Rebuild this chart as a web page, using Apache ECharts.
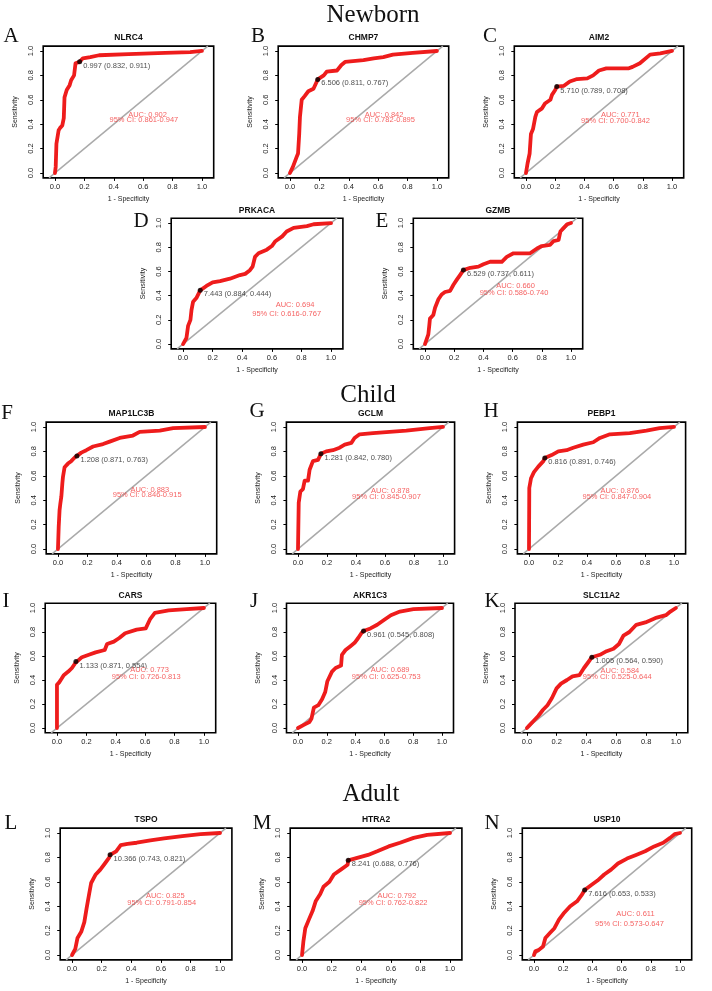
<!DOCTYPE html>
<html><head><meta charset="utf-8">
<script src="https://cdn.jsdelivr.net/npm/echarts@6/dist/echarts.min.js"></script>
<style>html,body{margin:0;padding:0;background:#fff}#c{width:712px;height:991px}</style>
</head><body><div id="c"></div>
<script>
// ---------------- data ----------------
const sections = ['Newborn', 'Child', 'Adult'];
const letters = ['A','B','C','D','E','F','G','H','I','J','K','L','M','N'];
const genes = ['NLRC4','CHMP7','AIM2','PRKACA','GZMB','MAP1LC3B','GCLM','PEBP1','CARS','AKR1C3','SLC11A2','TSPO','HTRA2','USP10'];
const thresholds = [0.997, 6.506, 5.710, 7.443, 6.529, 1.208, 1.281, 0.816, 1.133, 0.961, 1.005, 10.366, 8.241, 7.616];
const specAtThr = [0.832, 0.811, 0.789, 0.884, 0.737, 0.871, 0.842, 0.891, 0.871, 0.545, 0.564, 0.743, 0.688, 0.653];
const sensAtThr = [0.911, 0.767, 0.708, 0.444, 0.611, 0.763, 0.780, 0.746, 0.554, 0.808, 0.590, 0.821, 0.776, 0.533];
const aucValues = [0.902, 0.842, 0.771, 0.694, 0.660, 0.883, 0.878, 0.876, 0.773, 0.689, 0.584, 0.825, 0.792, 0.611];
const ciLower = [0.861, 0.782, 0.700, 0.616, 0.586, 0.846, 0.845, 0.847, 0.726, 0.625, 0.525, 0.791, 0.762, 0.573];
const ciUpper = [0.947, 0.895, 0.842, 0.767, 0.740, 0.915, 0.907, 0.904, 0.813, 0.753, 0.644, 0.854, 0.822, 0.647];
const xTicks = [0, 0.2, 0.4, 0.6, 0.8, 1.0];
const yTicks = [0, 0.2, 0.4, 0.6, 0.8, 1.0];

// ROC curves: [1 - specificity, sensitivity]
const rocNLRC4 = [[0,0],[0.005,0.05],[0.01,0.24],[0.02,0.25],[0.025,0.35],[0.035,0.37],[0.05,0.39],[0.06,0.45],[0.065,0.62],[0.08,0.68],[0.1,0.72],[0.11,0.76],[0.13,0.8],[0.14,0.9],[0.168,0.911],[0.19,0.94],[0.24,0.95],[0.3,0.965],[0.5,0.975],[0.75,0.985],[0.92,0.99],[1,1]];
const rocCHMP7 = [[0,0],[0.02,0.05],[0.045,0.13],[0.055,0.16],[0.063,0.32],[0.068,0.46],[0.08,0.6],[0.1,0.63],[0.125,0.67],[0.16,0.69],[0.189,0.767],[0.23,0.8],[0.25,0.83],[0.32,0.84],[0.35,0.885],[0.375,0.91],[0.5,0.925],[0.57,0.94],[0.635,0.95],[0.7,0.97],[0.835,0.985],[1,1]];
const rocAIM2 = [[0,0],[0.011,0.08],[0.025,0.16],[0.034,0.32],[0.048,0.36],[0.064,0.46],[0.075,0.5],[0.11,0.53],[0.13,0.57],[0.167,0.6],[0.178,0.64],[0.2,0.68],[0.211,0.708],[0.26,0.715],[0.3,0.75],[0.35,0.77],[0.42,0.775],[0.46,0.8],[0.5,0.84],[0.55,0.857],[0.7,0.857],[0.73,0.87],[0.78,0.9],[0.85,0.97],[0.92,0.98],[1,1]];
const rocPRKACA = [[0,0],[0.023,0.05],[0.034,0.15],[0.05,0.2],[0.057,0.28],[0.068,0.35],[0.09,0.38],[0.116,0.444],[0.158,0.48],[0.2,0.51],[0.25,0.52],[0.317,0.54],[0.385,0.57],[0.42,0.58],[0.452,0.61],[0.47,0.64],[0.486,0.72],[0.51,0.75],[0.566,0.78],[0.6,0.81],[0.624,0.85],[0.67,0.89],[0.7,0.93],[0.747,0.96],[0.837,0.975],[0.882,0.99],[1,1]];
const rocGZMB = [[0,0],[0.023,0.08],[0.03,0.16],[0.034,0.21],[0.057,0.24],[0.069,0.3],[0.092,0.37],[0.114,0.41],[0.137,0.43],[0.172,0.44],[0.195,0.49],[0.217,0.53],[0.24,0.57],[0.263,0.611],[0.31,0.63],[0.366,0.64],[0.4,0.66],[0.446,0.68],[0.526,0.68],[0.56,0.72],[0.606,0.75],[0.72,0.75],[0.767,0.79],[0.8,0.81],[0.856,0.82],[0.88,0.85],[0.915,0.86],[0.927,0.93],[0.95,0.96],[0.973,0.99],[1,1]];
const rocMAP1LC3B = [[0,0],[0.005,0.18],[0.011,0.32],[0.016,0.37],[0.023,0.43],[0.03,0.54],[0.034,0.59],[0.045,0.67],[0.068,0.7],[0.09,0.72],[0.114,0.75],[0.129,0.763],[0.159,0.79],[0.193,0.81],[0.239,0.84],[0.307,0.86],[0.352,0.88],[0.42,0.91],[0.51,0.93],[0.556,0.96],[0.693,0.97],[0.784,0.99],[1,1]];
const rocGCLM = [[0,0],[0.005,0.38],[0.016,0.47],[0.034,0.49],[0.046,0.56],[0.069,0.56],[0.08,0.65],[0.103,0.72],[0.138,0.73],[0.158,0.78],[0.195,0.8],[0.241,0.81],[0.287,0.83],[0.322,0.855],[0.368,0.87],[0.39,0.91],[0.425,0.94],[0.517,0.95],[0.632,0.96],[0.747,0.97],[0.908,0.99],[1,1]];
const rocPEBP1 = [[0,0],[0.002,0.5],[0.014,0.58],[0.034,0.63],[0.064,0.675],[0.099,0.72],[0.109,0.746],[0.156,0.77],[0.202,0.8],[0.259,0.81],[0.305,0.83],[0.374,0.855],[0.443,0.875],[0.489,0.91],[0.558,0.94],[0.695,0.95],[0.81,0.97],[0.901,0.99],[1,1]];
const rocCARS = [[0,0],[0,0.36],[0.015,0.38],[0.031,0.41],[0.046,0.44],[0.077,0.47],[0.102,0.5],[0.124,0.54],[0.129,0.554],[0.17,0.59],[0.217,0.61],[0.263,0.63],[0.325,0.65],[0.341,0.7],[0.387,0.72],[0.424,0.75],[0.464,0.79],[0.542,0.82],[0.604,0.83],[0.635,0.91],[0.666,0.96],[0.76,0.98],[0.882,0.99],[1,1]];
const rocAKR1C3 = [[0,0],[0.047,0.03],[0.079,0.05],[0.094,0.08],[0.11,0.17],[0.141,0.19],[0.167,0.24],[0.189,0.3],[0.204,0.39],[0.236,0.47],[0.261,0.5],[0.299,0.52],[0.305,0.61],[0.33,0.65],[0.362,0.68],[0.393,0.71],[0.418,0.75],[0.44,0.79],[0.455,0.808],[0.503,0.83],[0.55,0.86],[0.597,0.9],[0.645,0.94],[0.708,0.97],[0.802,0.99],[1,1]];
const rocSLC11A2 = [[0,0],[0.015,0.02],[0.046,0.06],[0.076,0.1],[0.107,0.15],[0.138,0.19],[0.168,0.25],[0.199,0.33],[0.229,0.37],[0.269,0.4],[0.306,0.43],[0.352,0.44],[0.383,0.5],[0.413,0.55],[0.436,0.59],[0.49,0.61],[0.535,0.64],[0.581,0.66],[0.618,0.7],[0.648,0.77],[0.688,0.8],[0.734,0.86],[0.795,0.88],[0.872,0.92],[0.933,0.94],[0.963,0.97],[1,1]];
const rocTSPO = [[0,0],[0.022,0.05],[0.037,0.14],[0.062,0.19],[0.083,0.27],[0.098,0.38],[0.114,0.49],[0.129,0.59],[0.16,0.66],[0.191,0.7],[0.222,0.75],[0.252,0.8],[0.257,0.821],[0.298,0.85],[0.329,0.9],[0.375,0.91],[0.437,0.92],[0.529,0.94],[0.622,0.955],[0.745,0.975],[0.868,0.99],[1,1]];
const rocHTRA2 = [[0,0],[0.009,0.11],[0.022,0.22],[0.046,0.29],[0.071,0.36],[0.092,0.44],[0.123,0.5],[0.145,0.56],[0.185,0.6],[0.215,0.66],[0.262,0.7],[0.308,0.74],[0.312,0.776],[0.385,0.8],[0.446,0.82],[0.508,0.85],[0.585,0.89],[0.662,0.92],[0.754,0.96],[0.846,0.985],[1,1]];
const rocUSP10 = [[0,0],[0.009,0.03],[0.031,0.04],[0.062,0.07],[0.078,0.14],[0.109,0.18],[0.14,0.22],[0.171,0.29],[0.202,0.34],[0.248,0.4],[0.295,0.44],[0.326,0.49],[0.347,0.533],[0.388,0.57],[0.435,0.61],[0.481,0.66],[0.528,0.7],[0.575,0.75],[0.637,0.79],[0.699,0.82],[0.761,0.85],[0.823,0.89],[0.885,0.92],[0.932,0.96],[0.963,0.99],[1,1]];
const rocCurves = [rocNLRC4, rocCHMP7, rocAIM2, rocPRKACA, rocGZMB, rocMAP1LC3B, rocGCLM, rocPEBP1, rocCARS, rocAKR1C3, rocSLC11A2, rocTSPO, rocHTRA2, rocUSP10];

// ---------------- layout (pixels / placement) ----------------
const gridBoxes = [
  [43.2, 46.1, 170.5, 131.8], [278.2, 46.1, 170.5, 131.8], [514.3, 46.1, 169.4, 131.8],
  [171.2, 218.2, 171.7, 130.7], [413.3, 218.2, 169.4, 130.7],
  [46.2, 422.1, 170.5, 131.8], [286.4, 422.1, 168.2, 131.8], [517.4, 422.1, 168.2, 131.8],
  [45.2, 603.2, 170.5, 129.6], [286.5, 603.2, 167.0, 129.6], [515.0, 603.2, 172.8, 129.6],
  [60.2, 828.1, 171.7, 131.8], [290.2, 828.1, 171.7, 131.8], [522.3, 828.1, 169.4, 131.8]
];
const letterPos = [[11,36],[258,36],[490,36],[141,221],[382,221],[7,413],[257,411],[491,411],[6,601],[254,601],[492,601],[11,823],[262,823],[492,823]];
const sectionPos = [[373,15],[368,395],[371,794]];
// AUC text placement in data coords: [aucX, aucY, ciX, ciY]
const aucTextPos = [
  [0.63,0.48,0.605,0.434],[0.64,0.48,0.616,0.434],[0.646,0.475,0.613,0.43],
  [0.757,0.32,0.70,0.25],[0.62,0.48,0.61,0.42],
  [0.625,0.487,0.607,0.44],[0.637,0.475,0.61,0.425],[0.626,0.475,0.606,0.425],
  [0.63,0.483,0.607,0.428],[0.64,0.483,0.613,0.428],[0.624,0.475,0.606,0.423],
  [0.63,0.484,0.606,0.43],[0.64,0.484,0.615,0.43],[0.695,0.336,0.654,0.254]
];

const SANS = '"Liberation Sans", Arial, Helvetica, sans-serif';
const SERIF = '"Liberation Serif", "Times New Roman", serif';
const RED = '#ee1c1c';
const TXTRED = '#f23a3a';

const grid = [], xAxis = [], yAxis = [], series = [], graphic = [];
const fmt1 = v => v.toFixed(1);

rocCurves.forEach((curve, i) => {
  const [l, t, w, h] = gridBoxes[i];
  grid.push({left: l, top: t, width: w, height: h, show: true, borderColor: '#000', borderWidth: 1.6,
    backgroundColor: '#fff', containLabel: false, outerBoundsMode: 'none'});
  xAxis.push({
    gridIndex: i, type: 'value', min: -0.08, max: 1.08, position: 'bottom',
    axisLine: {show: false, onZero: false}, splitLine: {show: false},
    axisTick: {show: true, inside: false, length: 3, customValues: xTicks, lineStyle: {color: '#000', width: 1}},
    axisLabel: {show: true, customValues: xTicks, formatter: fmt1, fontSize: 7.5, color: '#222', margin: 5, fontFamily: SANS},
    name: '1 - Specificity', nameLocation: 'middle', nameGap: 18,
    nameTextStyle: {fontSize: 7, color: '#222', fontFamily: SANS}
  });
  yAxis.push({
    gridIndex: i, type: 'value', min: -0.04, max: 1.04, position: 'left',
    axisLine: {show: false, onZero: false}, splitLine: {show: false},
    axisTick: {show: true, inside: false, length: 3, customValues: yTicks, lineStyle: {color: '#000', width: 1}},
    axisLabel: {show: true, customValues: yTicks, formatter: fmt1, rotate: 90, fontSize: 7.5, color: '#222', margin: 8, fontFamily: SANS},
    name: 'Sensitivity', nameLocation: 'middle', nameGap: 25,
    nameTextStyle: {fontSize: 7, color: '#222', fontFamily: SANS}
  });
  // reference diagonal
  series.push({type: 'line', xAxisIndex: i, yAxisIndex: i, data: [[-0.04,-0.04],[1.04,1.04]],
    symbol: 'none', silent: true, z: 1, lineStyle: {color: '#aaaaaa', width: 1.5}});
  // ROC curve
  series.push({type: 'line', xAxisIndex: i, yAxisIndex: i, data: curve, symbol: 'none', silent: true, z: 2,
    lineStyle: {color: RED, width: 3.8, join: 'round', cap: 'round'}});
  // best threshold point
  const label = thresholds[i].toFixed(3) + ' (' + specAtThr[i].toFixed(3) + ', ' + sensAtThr[i].toFixed(3) + ')';
  series.push({type: 'scatter', xAxisIndex: i, yAxisIndex: i, data: [[1 - specAtThr[i], sensAtThr[i]]],
    symbolSize: 5, z: 4, silent: true, itemStyle: {color: '#000'},
    label: {show: true, position: 'right', distance: 1, offset: [0, 4], formatter: () => label,
      fontSize: 7.5, color: '#222', fontFamily: SANS}});
  // AUC text
  const p = aucTextPos[i];
  series.push({type: 'scatter', xAxisIndex: i, yAxisIndex: i, z: 5, silent: true, symbolSize: 1,
    itemStyle: {color: 'rgba(0,0,0,0)'},
    data: [{value: [p[0], p[1]], name: 'AUC: ' + aucValues[i].toFixed(3)},
           {value: [p[2], p[3]], name: '95% CI: ' + ciLower[i].toFixed(3) + '-' + ciUpper[i].toFixed(3)}],
    label: {show: true, position: 'inside', formatter: q => q.name, fontSize: 7.5, color: TXTRED, fontFamily: SANS}});
  // gene title
  graphic.push({type: 'text', x: l + w / 2, y: t - 8, silent: true,
    style: {text: genes[i], font: 'bold 8.5px ' + SANS, fill: '#111', textAlign: 'center', textVerticalAlign: 'middle', align: 'center', verticalAlign: 'middle'}});
  // panel letter
  graphic.push({type: 'text', x: letterPos[i][0], y: letterPos[i][1], silent: true,
    style: {text: letters[i], font: '21px ' + SERIF, fill: '#111', textAlign: 'center', textVerticalAlign: 'middle', align: 'center', verticalAlign: 'middle'}});
});
sections.forEach((s, k) => {
  graphic.push({type: 'text', x: sectionPos[k][0], y: sectionPos[k][1], silent: true,
    style: {text: s, font: '25px ' + SERIF, fill: '#111', textAlign: 'center', textVerticalAlign: 'middle', align: 'center', verticalAlign: 'middle'}});
});

const chart = echarts.init(document.getElementById('c'), null, {renderer: 'canvas'});
chart.setOption({backgroundColor: '#fff', animation: false, grid, xAxis, yAxis, series, graphic});
</script></body></html>
